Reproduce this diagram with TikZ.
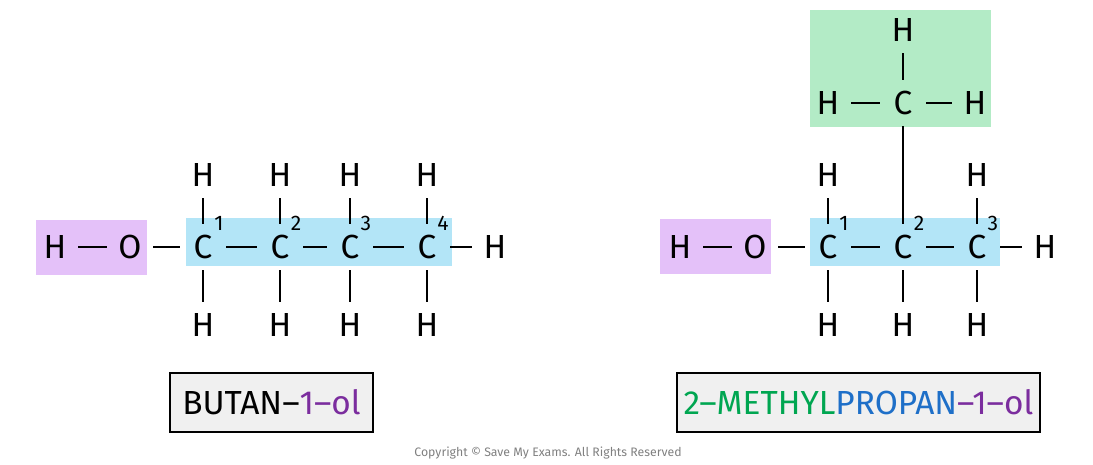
\documentclass[tikz,border=0pt]{standalone}
\usepackage{fontspec}
\setmainfont{Fira Sans}
\definecolor{pur}{HTML}{E4C1F9}
\definecolor{blu}{HTML}{B3E5F7}
\definecolor{grn}{HTML}{B3EBC6}
\definecolor{tpur}{HTML}{7B2D9E}
\definecolor{tgrn}{HTML}{00A651}
\definecolor{tblu}{HTML}{1E6FC8}
\begin{document}
\begin{tikzpicture}[x=0.02cm,y=-0.02cm,
  atom/.style={font=\fontsize{19}{20}\selectfont,inner sep=1pt,minimum size=22pt},
  num/.style={font=\fontsize{12}{12}\selectfont,inner sep=0pt},
  bond/.style={line width=1pt,shorten <=2pt,shorten >=2pt},
  lab/.style={draw=black,fill=gray!12,line width=0.8pt,minimum height=59*0.02cm,font=\fontsize{19}{20}\selectfont}]
\useasboundingbox (0,0) rectangle (1093,465);
% highlight boxes
\fill[pur] (36,220) rectangle (147,275);
\fill[blu] (186,218) rectangle (452,266);
\fill[pur] (660,219) rectangle (771,274);
\fill[blu] (810,218) rectangle (1000,266);
\fill[grn] (810,10) rectangle (991,127);
% left molecule
\node[atom] (lH) at (55,247) {H};
\node[atom] (lO) at (130,247) {O};
\foreach \i/\x in {1/203,2/280,3/350,4/427}{
  \node[atom] (lC\i) at (\x,247) {C};
  \node[atom] (lHt\i) at (\x,175) {H};
  \node[atom] (lHb\i) at (\x,325) {H};
  \draw[bond] (lC\i) -- (lHt\i);
  \draw[bond] (lC\i) -- (lHb\i);
  \node[num] (ln\i) at (\x+16,223) {\i};
}
\node[atom] (lHr) at (495,247) {H};
\draw[bond] (lH) -- (lO);
\draw[bond] (lO) -- (lC1);
\draw[bond] (lC1) -- (lC2);
\draw[bond] (lC2) -- (lC3);
\draw[bond] (lC3) -- (lC4);
\draw[bond] (lC4) -- (lHr);
% right molecule
\node[atom] (rH) at (680,247) {H};
\node[atom] (rO) at (755,247) {O};
\foreach \i/\x in {1/828,2/903,3/977}{
  \node[atom] (rC\i) at (\x,247) {C};
  \node[atom] (rHb\i) at (\x,325) {H};
  \draw[bond] (rC\i) -- (rHb\i);
  \node[num] (rn\i) at (\x+16,223) {\i};
}
\node[atom] (rHt1) at (828,175) {H};
\node[atom] (rHt3) at (977,175) {H};
\draw[bond] (rC1) -- (rHt1);
\draw[bond] (rC3) -- (rHt3);
\node[atom] (rHr) at (1045,247) {H};
\draw[bond] (rH) -- (rO);
\draw[bond] (rO) -- (rC1);
\draw[bond] (rC1) -- (rC2);
\draw[bond] (rC2) -- (rC3);
\draw[bond] (rC3) -- (rHr);
% methyl
\node[atom] (mC) at (903,103) {C};
\node[atom] (mHt) at (903,30) {H};
\node[atom] (mHl) at (828,103) {H};
\node[atom] (mHr) at (975,103) {H};
\draw[bond] (mC) -- (mHt);
\draw[bond] (mC) -- (mHl);
\draw[bond] (mC) -- (mHr);
\draw[bond] (mC) -- (rC2);
% labels
\node[lab,minimum width=203*0.02cm] (lname) at (271.5,402.5) {BUTAN\textendash\textcolor{tpur}{1\textendash ol}};
\node[lab,minimum width=363*0.02cm] (rname) at (858.5,402.5) {\textcolor{tgrn}{2\textendash METHYL}\textcolor{tblu}{PROPAN}\textcolor{tpur}{\textendash 1\textendash ol}};
\node[font=\fontsize{7}{8}\selectfont,text=gray] (copy) at (548,453) {Copyright © Save My Exams. All Rights Reserved};
\end{tikzpicture}
\end{document}
